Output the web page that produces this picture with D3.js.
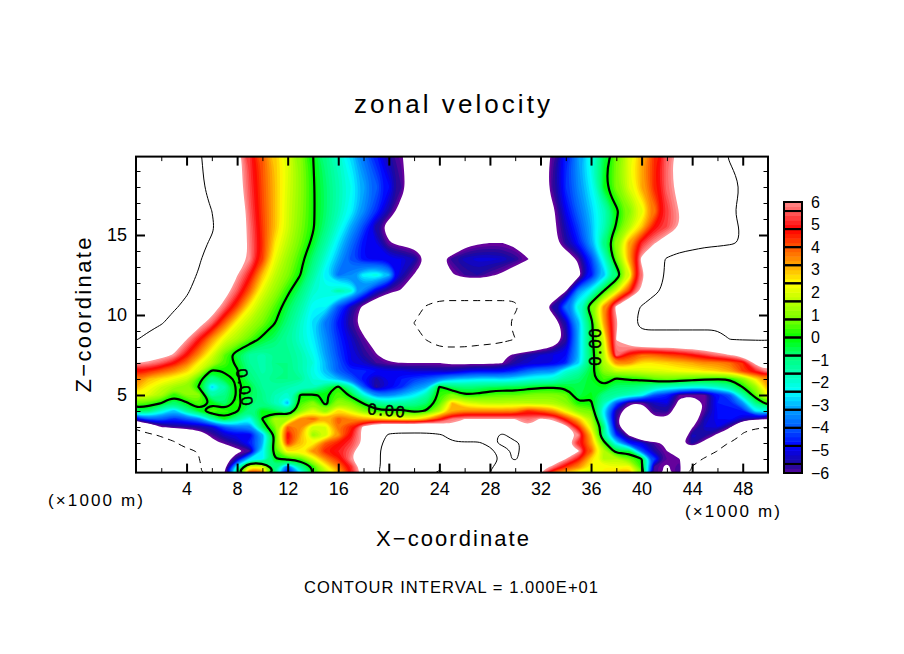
<!DOCTYPE html>
<html>
<head>
<meta charset="utf-8">
<title>zonal velocity</title>
<script src="https://cdnjs.cloudflare.com/ajax/libs/d3/7.8.5/d3.min.js"></script>
<style>
body { margin: 0; background: #fff; }
text { font-family: "Liberation Sans", Arial, sans-serif; fill: #000; }
</style>
</head>
<body>
<div id="chart"></div>
<script>
// heights (x1000 m) of the rows below, top of the plot first
var rowHeights = [19.9,18,16.5,15.5,14.5,13.5,12.5,11.5,10.5,9.5,8.5,7.5,7,6.5,6,5.5,5,4.5,4,3.5,3,2.5,2,1.5,1,.5,.15];

// zonal velocity, one value per 1000 m from x=0 to x=50
var velocityRows = [
[12,12,12,12,11,10.3,9,8,6.8,5.2, 4,2.9,2.1,1,.01,-1,-1.8,-2.7,-3.7,-4.6, -5.5,-6.1,-7,-7.5,-8,-8,-8,-8,-8,-8, -8,-7.5,-7,-5.9,-4.5,-3.2,-2,-.5,.8,2.1, 3.2,4.4,5.7,6.8,8,8.5,9.3,10.2,11,12, 12],
[12,12,12,12,11,10.4,9.3,8,6.8,5.4, 4.1,3,2,1.1,.1,-.7,-1.5,-2.2,-3.1,-3.9, -4.75,-5.8,-7,-8,-8,-8,-8,-8,-8,-8, -8,-7.5,-7,-5.7,-4.4,-3.4,-2.4,-.2,.9,2, 3.2,4.5,5.75,6.7,7.5,8,8.6,9.3,10.1,11, 12],
[12,12,12,12,12,11,10,8.8,7.5,5.6, 4.2,3,1.9,1,.1,-.7,-1.6,-2.4,-3.4,-4.4, -5.5,-6.7,-7.5,-8,-8,-8,-8,-8,-8,-8, -8,-8,-7.5,-6.4,-4.9,-3.8,-2.8,-1.8,-.2,.9, 2,3.6,5.2,6.2,7,8,8.8,9.7,10.7,11.5, 12],
[12,12,12,12,12,11,10.3,8.8,7.3,5.8, 4.3,3,1.9,.9,.1,-.9,-2,-3.1,-4.2,-5.6, -6.8,-7.5,-8,-8,-8,-8,-8,-8,-8,-8, -8,-8,-7.5,-6.5,-5.3,-4.2,-3,-1.7,.1,1.5, 2.9,4.75,5.4,6.2,7,7.9,8.6,9.4,10.2,11, 12],
[12,12,12,12,11.5,10.6,9.7,8.5,7.3,5.9, 4.4,2.6,1.6,.7,-.2,-1.4,-2.6,-3.7,-4.75,-5, -6.1,-6.5,-6.6,-8,-8,-8,-6.6,-6.3,-6.2,-6.2, -6.4,-8,-8,-6.6,-5.6,-4.6,-3.1,-.9,1.2,3.3, 5.1,6.1,7,9,9.2,9.5,9.6,9.8,10.1,11, 12],
[12,12,12,12,11,10.2,9,8,7,6, 4.3,2.2,1.2,.3,-.8,-2,-3.1,-4.1,-4.8,-4.9, -4.9,-5,-5.4,-6.3,-6.5,-5.7,-5.3,-5.1,-5.1,-5.2, -5.6,-6.1,-7.5,-7.5,-7,-6,-4.3,-2.1,.7,3.3, 6.5,8.8,10.3,10.7,11,11.3,11.5,11.6,11.8,12, 12],
[12,12,12,12,10.7,9.8,8.7,7.5,6.25,4.9, 3,1.7,.9,.02,-1.3,-2.6,-3.7,-3.4,-2.4,-2, -2.9,-5.3,-6.25,-7.2,-7.5,-6.3,-5.8,-5.6,-6,-6.4, -7,-8,-8,-8,-7.5,-6.6,-4.75,-3,-.9,1.8, 5.7,8,10.5,11,12,12,12,12,12,12, 12],
[12,12,12,11,10.3,9.1,7.9,6.8,5.5,3.9, 2.1,1.2,.2,-.8,-1.9,-2.1,-1.4,-1.9,-3.6,-5.1, -5.9,-6.3,-7.5,-8.5,-8.5,-8.5,-8.5,-8.5,-8.5,-8.5, -9.5,-8.5,-8,-7.5,-6.25,-3.3,-2.2,.02,2,4.3, 6.5,9.4,10.7,11.5,12,12,12,12,12,12, 12],
[12,12,12,10.3,9.4,8.2,7,5.7,4.2,2.4, 1.4,.5,-.5,-1.4,-2.4,-2.4,-4.1,-5.4,-6.5,-7.5, -8,-8.5,-9.3,-10.2,-11,-11,-11,-11,-11,-11, -10.3,-9,-7,-5.5,-3.7,-1.9,.8,3.5,6.5,8.4, 10.3,11.5,12,12,12,12,12,12,12,12, 12],
[12,11,10.2,9.1,7.9,6.7,5.6,3.9,2.3,1.5, .8,.02,-.9,-1.8,-2.7,-3.7,-4.7,-5.8,-6.8,-7.8, -8.5,-9.3,-10.01,-11,-11.5,-11.5,-11.5,-11.5,-11.5,-10.6, -9.5,-8.5,-7.5,-7,-5.4,-3.1,-.5,3.2,5.9,8.7, 11,11,11,11,11,11,11,11,11,11, 11],
[10.2,9.2,8.2,7.2,6.25,4.9,3.4,2.1,1.4,.6, -.2,-.7,-1.3,-1.9,-2.5,-3.4,-4.4,-5.2,-6,-7, -8,-8.7,-9.5,-10.1,-11,-11,-11,-11,-11,-11, -10.01,-9,-8,-7.5,-5.8,-3,-.3,2,6.25,7.5, 8.7,8.7,8.7,8.7,8.7,8.7,8.7,10.1,10.2,10.2, 10.2],
[7.8,7.2,6.7,6.1,4.75,3.4,2,.6,-.5,-1.3, -1.5,-1.2,-1.1,-1.5,-2.2,-3.2,-4.2,-5,-5.6,-6.1, -7,-7.5,-8.5,-9,-9,-9,-9,-8.5,-8,-6.5, -5.9,-5.5,-5.2,-5,-4.8,-3,-.5,1.5,5.8,4.5, 3.8,3.9,4.2,4.4,4.8,5.3,5.8,6.2,6.9,7.5, 8],
[6.2,6,5.5,4.8,3.8,2.4,1.5,.5,-.2,-1.2, -1.5,-1,-1,-1.5,-2,-3,-4,-5,-5.2,-5.8, -6.1,-6.2,-6.2,-6.2,-6.2,-6.4,-6.4,-6.4,-6.4,-6.2, -5.5,-5.2,-5.2,-5,-4.5,-2.8,-.5,1.5,3.5,3.5, 2.6,2.6,2.8,3,3.2,3.5,3.5,3.8,4.4,6.5, 7.5],
[4.8,4.5,4,3.5,2.8,1.8,-.2,.1,.1,-1, -1.5,-1.2,-1,-1.5,-2.2,-3,-4,-4.5,-4.5,-4.8, -5,-5,-5.2,-5.2,-5.3,-5.3,-5,-4.8,-4.8,-4.8, -4.4,-3.8,-3.4,-3.4,-2,-1.5,-.3,1,1.8,1.7, 1.9,2,2.1,2.3,2.4,2.6,2.8,3.2,4.3,5, 6.1],
[3.8,3,2.6,2.2,1.8,.3,-1.2,-.3,.1,-.8, -1.3,-1,-1,-1.2,-2,-2.5,-3,-3.8,-4.8,-5.5, -5,-4.6,-4.3,-4,-3.5,-3,-2.8,-2.6,-2.6,-2.7, -2.5,-2.2,-2,-2,-1.2,-.8,-.2,.4,-.1,.1, .2,.6,.8,.6,.4,.2,.1,.05,1,2.5, 3.6],
[3.2,2.4,1.8,1.3,1,-.1,-2.8,-1.5,.2,-.3, -1.2,-1.3,-1.5,-1.8,-1.8,-.8,.2,-1.5,-4,-5.7, -5,-4.5,-3.5,-3,.1,-.7,-.9,-.8,-.6,-.5, -.5,-.3,-.1,-.1,-.2,-.5,-.3,-.1,-.8,-.8, -1,-1.5,-1.8,-2,-2.2,-2.2,-1.8,-1.2,.02,1.2, 3.2],
[2.4,2,1.4,.2,1,1,-1.5,-1,.1,-.5, -1,-1.6,-2,.1,.1,-.1,.6,-.2,-2,-3.5, -3.5,-3,-2.5,-1.5,.3,1,.05,.2,.5,.6, .6,.8,.9,.9,.7,-.5,-.1,-1,-1.3,-1.7, -2.2,-4,-4.5,-6,-6.1,-6.1,-4.8,-4,-1.5,.5, 2.4],
[.7,.5,.02,-.8,-.1,.6,-.1,-.8,.3,-.6, -1,-1.7,-3,.4,1,-.3,1.2,.8,-.1,-1.2, -1.5,-1.4,-1.2,-.7,.5,3,2.1,1.8,1.6,1.6, 1.7,1.6,1.5,1.5,1,.05,.1,-1.6,-4,-6, -6.2,-5.3,-5,-6.5,-7,-6.1,-4.6,-4.5,-3.3,-1, .5],
[-.5,-.8,-2,-3,-1.3,-.2,.6,.3,.1,-1, -.1,-.5,-1.2,1,2.1,1,2.8,2,1,.3, .2,.3,-.3,.1,1.5,3.2,3.5,3.5,3.5,3.5, 3.5,4.5,4,3.5,2.2,1,.8,-2.6,-5.5,-7, -7,-5.7,-5.6,-7,-7,-5.9,-4.8,-4.7,-4.6,-2.5, -2],
[-5,-4,-3.9,-4.5,-4,-3.5,-1.5,-.1,-1.2,-2.3, .02,1.5,1.3,3.5,4,3,4,3.5,3.2,3, 2.6,2.5,2.4,3.2,4.5,5.8,6.2,6.2,6.2,6.2, 6.2,5.7,6.3,6,4.5,3,1.5,-2,-5.8,-8, -9,-6.4,-6.4,-8.5,-7,-5.4,-4.8,-4.7,-5.3,-5.8, -6.2],
[-9.5,-8,-6.2,-5.8,-5.7,-5.5,-5.2,-4,-3.5,-3.5, -.5,.8,4,3.5,1.8,2,3.8,4.5,6.5,8, 8.5,8.5,8.5,8.5,7.5,6.5,6.8,7,7,7, 6.8,6.3,6.8,7.5,6.6,4.5,2,-.8,-5.6,-8, -8.5,-9,-8.5,-8.5,-6.3,-5.2,-5,-6,-9.5,-9.8, -9.9],
[-11,-10.5,-9.7,-9,-8,-7,-5.9,-5.2,-4.9,-5, -3.2,.2,5,3.2,1.2,1.8,3.3,4.8,6.6,8.5, 10.3,10.5,10.5,10.5,10.3,9.3,8.5,8.5,9,10.5, 8.5,8,8,8,7.5,6,3,-1.3,-4.5,-6.3, -9,-9,-9,-8,-5.3,-5.5,-6.4,-8,-10.2,-10.8, -11],
[-12,-11.5,-11,-10.3,-9,-8,-6.6,-6,-5.5,-4.5, -3,.5,4.5,3,2.4,4,4.6,5.3,6.4,9, 11,12,12,12,11,10.2,10.2,10.3,9.5,10.5, 10.5,9,9,8,6.6,5,3.3,.4,-2.5,-4.6, -5,-5.9,-6.4,-6.5,-5.5,-6.6,-9.5,-10.1,-10.5,-11, -11],
[-12,-12,-12,-11.5,-10.5,-9.9,-9,-8,-6.5,-5.9, -2.5,.5,2.7,2.5,3.5,4.6,5,5.7,7.5,9.5, 11,12,12,12,12,12,12,12,10.5,9, 10.5,9,8.5,8,7.5,6.3,4,1.6,-.5,-.4, -4,-5.5,-6.2,-8,-7.2,-9,-10.01,-10.4,-11,-11, -11],
[-12,-12,-12,-11.5,-10.7,-10.02,-9,-7,-5.3,-2.5, -2.5,-.1,.3,.4,2,3.5,4.5,6,8,9.5, 11,12,12,12,12,12,12,12,11,9.6, 10.2,9,8,7.5,6.2,4.8,2.8,1.5,1.6,.8, .1,-4.2,-6,-6.1,-9.2,-10.2,-10.5,-11,-11,-11, -11],
[-12,-12,-12,-11.5,-11,-10.2,-9,-6.7,-2,2.2, 2.2,-1,-4,-1.3,.1,2.2,3.6,5,7,9.5, 11,12,12,12,10.5,12,12,12,10.3,9, 8.5,8,7,5.8,4.4,3.5,2.4,2.4,2.2,2.5, .2,-5.9,-6.35,-5.8,-10.1,-10.5,-11,-11,-11,-11, -11],
[-12,-12,-12,-11.5,-11,-10.3,-8.5,-6.2,-.5,4.5, 4,-.8,-5,-2.5,.2,1.5,3,5,7,9.8, 11,12,12,12,9.5,12,12,12,10,8.5, 8,7.5,6.2,4,3,2.2,1.8,2.5,3,3.2, 1,-5.8,-6.35,-5.8,-11,-11,-11,-11,-11,-11, -11]
];

// colour ramp of the key
var rampValues = [-6.2,-5.6,-4.8,-4,-3.2,-2.4,-1.6,-.8,0,.8,1.6,2.4,3.2,4,4.8,5.6,6.2];
var rampColors = ['#74009c','#1c0a9a','#0000ff','#0058ff','#009cff','#00ffff','#00ffb4','#00ff78','#00ff00','#78ff00','#b8ff00','#ffff00','#ffa800','#ff5800','#ff0000','#ff6060','#ffa0a0'];

var xMajor = [4,8,12,16,20,24,28,32,36,40,44,48];
var xMinor = [2,6,10,14,18,22,26,30,34,38,42,46];
var zMajor = [5,10,15];
var zMinor = [1,2,3,4,6,7,8,9,11,12,13,14,16,17,18,19];
var keyTicks = [-6,-5,-4,-3,-2,-1,0,1,2,3,4,5,6];

var width = 904, height = 654;
var plot = {left: 136, right: 768, top: 156.6, bottom: 472.6};
var key = {left: 784, right: 802, top: 202, bottom: 473};

var svg = d3.select('#chart').append('svg')
    .attr('width', width)
    .attr('height', height)
    .style('display', 'block');

var x = d3.scaleLinear().domain([0, 50]).range([plot.left, plot.right]);
var z = d3.scaleLinear().domain([0.15, 19.9]).range([plot.bottom, plot.top]);
var color = d3.scaleLinear().domain(rampValues).range(rampColors).clamp(true);

// rows are not evenly spaced, so grid index -> height goes through its own scale
var rowScale = d3.scaleLinear().domain(d3.range(rowHeights.length)).range(rowHeights);

// rings are drawn as a spline, the grid is too coarse for straight segments
var ringLine = d3.line()
    .curve(d3.curveBasisClosed)
    .x(function(p){ return x(p[0] - 0.5); })
    .y(function(p){ return z(rowScale(p[1] - 0.5)); });

function contourPath(c) {
    return c.coordinates.map(function(polygon){
        return polygon.map(function(ring){ return ringLine(ring.slice(0, -1)); }).join('');
    }).join('');
}

var flat = [].concat.apply([], velocityRows);
var contours = d3.contours().size([velocityRows[0].length, velocityRows.length]);

svg.append('clipPath').attr('id', 'plotClip').append('rect')
    .attr('x', plot.left)
    .attr('y', plot.top)
    .attr('width', plot.right - plot.left)
    .attr('height', plot.bottom - plot.top);

var plotArea = svg.append('g').attr('clip-path', 'url(#plotClip)');

// FILLED BANDS, 0.2 wide, lowest first and each one painted over the last
var bandEdges = d3.range(-31, 32).map(function(i){ return i * 0.2; });
plotArea.selectAll('path.band')
    .data(contours.thresholds(bandEdges)(flat))
    .enter().append('path')
    .attr('class', 'band')
    .attr('d', contourPath)
    .attr('fill-rule', 'evenodd')
    .attr('fill', function(d){ return d.value >= 6.19 ? '#fff' : color(d.value + 0.1); });

// CONTOUR LINES
var lineStyles = [
    {level: -10, width: 1, dash: '7,5'},
    {level: 0, width: 2.2, dash: null},
    {level: 10, width: 1, dash: null}
];
lineStyles.forEach(function(s){
    plotArea.append('path')
        .datum(contours.thresholds([s.level])(flat)[0])
        .attr('d', contourPath)
        .attr('fill', 'none')
        .attr('stroke', '#000')
        .attr('stroke-width', s.width)
        .attr('stroke-dasharray', s.dash);
});

// labels of the zero contour
var zeroLabels = [[19.8, 4.05, 5], [8.6, 5.5, 80], [36.3, 8, -90]];
zeroLabels.forEach(function(l){
    svg.append('text')
        .attr('transform', 'translate(' + x(l[0]) + ',' + z(l[1]) + ') rotate(' + l[2] + ')')
        .attr('text-anchor', 'middle')
        .attr('dy', '.36em')
        .attr('font-size', '16px')
        .attr('stroke', '#000')
        .attr('stroke-width', 0.5)
        .attr('textLength', 37)
        .text('0.00');
});

// AXES, ticks point inwards on all four sides
function drawAxis(axisFn, scale, values, size, tx, ty, padding, labelled, weight) {
    var g = svg.append('g')
        .attr('transform', 'translate(' + tx + ',' + ty + ')')
        .call(axisFn(scale).tickValues(values).tickSize(size).tickPadding(padding)
            .tickFormat(labelled ? d3.format('d') : ''));
    g.select('.domain').remove();
    g.selectAll('line').attr('stroke', '#000').attr('stroke-width', weight);
    g.selectAll('text').attr('font-size', '18px').attr('font-family', null);
}
drawAxis(d3.axisBottom, x, xMinor, -4.5, 0, plot.bottom, 10, false, 1);
drawAxis(d3.axisBottom, x, xMajor, -9, 0, plot.bottom, 10, true, 2);
drawAxis(d3.axisTop, x, xMinor, -4.5, 0, plot.top, 10, false, 1);
drawAxis(d3.axisTop, x, xMajor, -9, 0, plot.top, 10, false, 2);
drawAxis(d3.axisLeft, z, zMinor, -4.5, plot.left, 0, 9, false, 1);
drawAxis(d3.axisLeft, z, zMajor, -9, plot.left, 0, 9, true, 2);
drawAxis(d3.axisRight, z, zMinor, -4.5, plot.right, 0, 9, false, 1);
drawAxis(d3.axisRight, z, zMajor, -9, plot.right, 0, 9, false, 2);

svg.append('rect')
    .attr('x', plot.left)
    .attr('y', plot.top)
    .attr('width', plot.right - plot.left)
    .attr('height', plot.bottom - plot.top)
    .attr('fill', 'none')
    .attr('stroke', '#000')
    .attr('stroke-width', 2);

// COLOUR KEY
var keyScale = d3.scaleLinear().domain([-6, 6]).range([key.bottom, key.top]);
var keySteps = d3.range(-30, 30).map(function(i){ return i * 0.2; });
svg.selectAll('rect.keyStep')
    .data(keySteps)
    .enter().append('rect')
    .attr('class', 'keyStep')
    .attr('x', key.left)
    .attr('width', key.right - key.left)
    .attr('y', function(d){ return keyScale(d + 0.2); })
    .attr('height', function(d){ return keyScale(d) - keyScale(d + 0.2) + 0.5; })
    .attr('fill', function(d){ return color(d + 0.1); });

var keyBoxes = [-6].concat(d3.range(-7, 8).map(function(i){ return i * 0.8; })).concat([6]);
svg.selectAll('rect.keyBox')
    .data(d3.pairs(keyBoxes))
    .enter().append('rect')
    .attr('class', 'keyBox')
    .attr('x', key.left)
    .attr('width', key.right - key.left)
    .attr('y', function(d){ return keyScale(d[1]); })
    .attr('height', function(d){ return keyScale(d[0]) - keyScale(d[1]); })
    .attr('fill', 'none')
    .attr('stroke', '#000')
    .attr('stroke-width', 2);

var keyAxis = svg.append('g')
    .attr('transform', 'translate(' + key.right + ',0)')
    .call(d3.axisRight(keyScale).tickValues(keyTicks).tickSize(0).tickPadding(9));
keyAxis.select('.domain').remove();
keyAxis.selectAll('text').attr('font-size', '16px').attr('font-family', null);

// TITLES
function addText(str, px, py, size, length, rotate, anchor) {
    svg.append('text')
        .attr('transform', 'translate(' + px + ',' + py + ')' + (rotate ? ' rotate(' + rotate + ')' : ''))
        .attr('text-anchor', anchor || 'middle')
        .attr('font-size', size + 'px')
        .attr('textLength', length)
        .attr('lengthAdjust', 'spacing')
        .text(str);
}
addText('zonal velocity', 452, 113, 26, 196);
addText('X\u2212coordinate', 452.5, 546, 22, 153);
addText('Z\u2212coordinate', 91, 315, 22, 155, -90);
addText('(\u00d71000 m)', 95.5, 506, 17, 95);
addText('(\u00d71000 m)', 732.5, 517, 17, 95);
addText('CONTOUR INTERVAL = 1.000E+01', 451, 593, 16.5, 294);
</script>
</body>
</html>
